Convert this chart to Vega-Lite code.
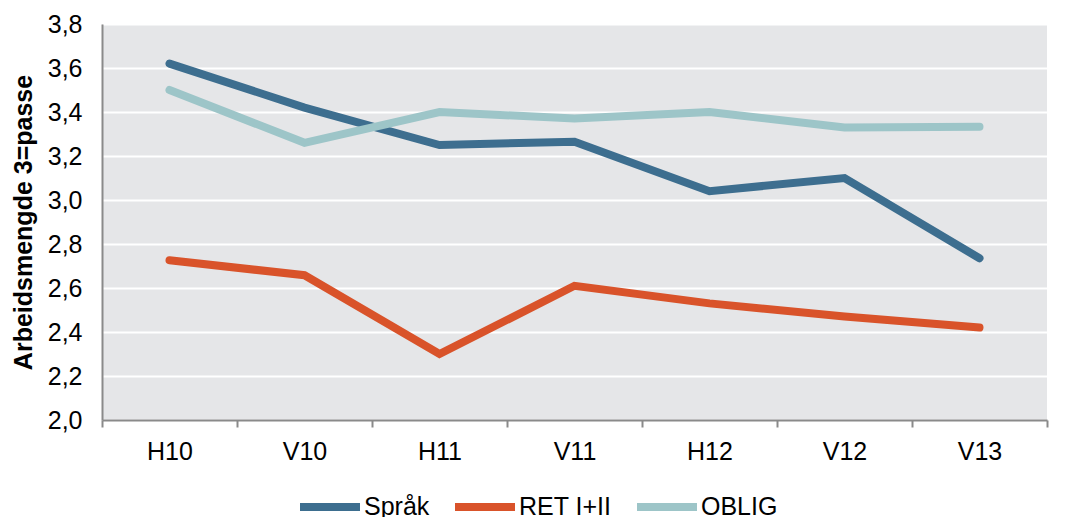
{
  "$schema": "https://vega.github.io/schema/vega-lite/v6.json",
  "autosize": {"type": "none"},
  "width": 945,
  "height": 396,
  "padding": {"left": 102, "top": 24, "right": 22, "bottom": 97},
  "background": "white",
  "config": {
    "font": "Liberation Sans",
    "view": {"fill": "#e5e6e8", "stroke": null}
  },
  "data": {
    "values": [
      {"semester": "H10", "serie": "Språk", "verdi": 3.62},
      {"semester": "V10", "serie": "Språk", "verdi": 3.42},
      {"semester": "H11", "serie": "Språk", "verdi": 3.25},
      {"semester": "V11", "serie": "Språk", "verdi": 3.265},
      {"semester": "H12", "serie": "Språk", "verdi": 3.04},
      {"semester": "V12", "serie": "Språk", "verdi": 3.10},
      {"semester": "V13", "serie": "Språk", "verdi": 2.735},
      {"semester": "H10", "serie": "RET I+II", "verdi": 2.726},
      {"semester": "V10", "serie": "RET I+II", "verdi": 2.658},
      {"semester": "H11", "serie": "RET I+II", "verdi": 2.30},
      {"semester": "V11", "serie": "RET I+II", "verdi": 2.61},
      {"semester": "H12", "serie": "RET I+II", "verdi": 2.53},
      {"semester": "V12", "serie": "RET I+II", "verdi": 2.47},
      {"semester": "V13", "serie": "RET I+II", "verdi": 2.42},
      {"semester": "H10", "serie": "OBLIG", "verdi": 3.50},
      {"semester": "V10", "serie": "OBLIG", "verdi": 3.26},
      {"semester": "H11", "serie": "OBLIG", "verdi": 3.40},
      {"semester": "V11", "serie": "OBLIG", "verdi": 3.37},
      {"semester": "H12", "serie": "OBLIG", "verdi": 3.40},
      {"semester": "V12", "serie": "OBLIG", "verdi": 3.33},
      {"semester": "V13", "serie": "OBLIG", "verdi": 3.333}
    ]
  },
  "mark": {"type": "line", "strokeWidth": 8, "strokeCap": "round", "strokeJoin": "miter"},
  "encoding": {
    "x": {
      "field": "semester",
      "type": "nominal",
      "sort": ["H10", "V10", "H11", "V11", "H12", "V12", "V13"],
      "scale": {"type": "band", "paddingInner": 0, "paddingOuter": 0},
      "axis": {
        "title": null,
        "labelAngle": 0,
        "labelFontSize": 25,
        "labelColor": "#000000",
        "labelPadding": 12,
        "tickBand": "extent",
        "ticks": true,
        "tickSize": 7,
        "tickColor": "#8a8a8a",
        "tickWidth": 2,
        "domainColor": "#8a8a8a",
        "domainWidth": 2,
        "grid": false
      }
    },
    "y": {
      "field": "verdi",
      "type": "quantitative",
      "scale": {"domain": [2.0, 3.8], "nice": false, "zero": false},
      "axis": {
        "title": "Arbeidsmengde 3=passe",
        "titleFontSize": 25,
        "titleFontWeight": "bold",
        "titleColor": "#000000",
        "titlePadding": 11,
        "values": [2.0, 2.2, 2.4, 2.6, 2.8, 3.0, 3.2, 3.4, 3.6, 3.8],
        "labelExpr": "replace(format(datum.value, '.1f'), '.', ',')",
        "labelFontSize": 25,
        "labelColor": "#000000",
        "labelPadding": 20,
        "ticks": false,
        "domainColor": "#8a8a8a",
        "domainWidth": 2,
        "grid": true,
        "gridColor": "#ffffff",
        "gridWidth": 2
      }
    },
    "color": {
      "field": "serie",
      "type": "nominal",
      "sort": ["Språk", "RET I+II", "OBLIG"],
      "scale": {
        "domain": ["Språk", "RET I+II", "OBLIG"],
        "range": ["#3d6e8f", "#d9532a", "#9dc5c8"]
      },
      "legend": {
        "title": null,
        "orient": "none",
        "direction": "horizontal",
        "legendX": 194,
        "legendY": 449,
        "symbolType": "stroke",
        "symbolSize": 3600,
        "symbolStrokeWidth": 8,
        "labelFontSize": 25,
        "labelColor": "#000000",
        "labelOffset": 0,
        "columnPadding": 9
      }
    }
  }
}
